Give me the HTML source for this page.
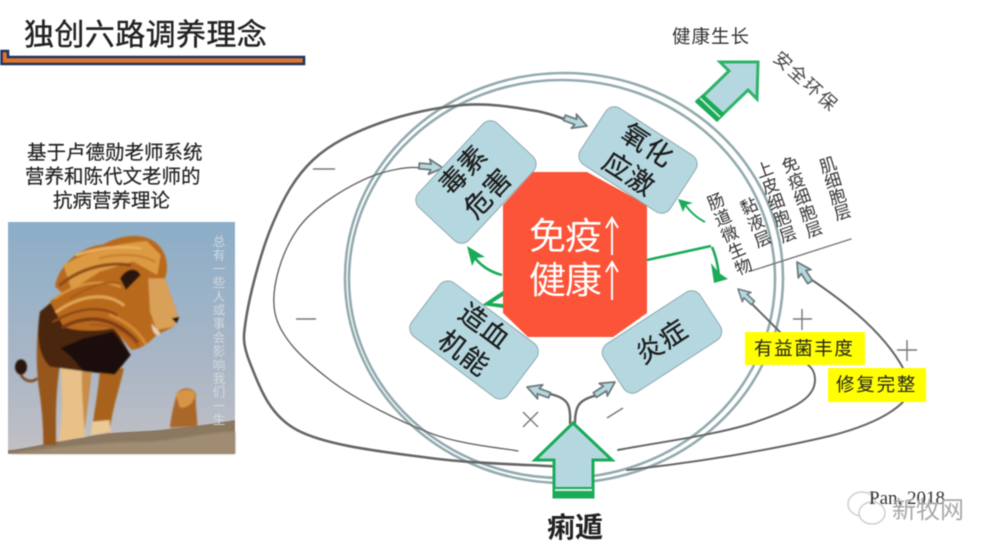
<!DOCTYPE html>
<html><head><meta charset="utf-8">
<style>
html,body{margin:0;padding:0;background:#fff}
#p{position:relative;width:1000px;height:555px;overflow:hidden;background:#fff;font-family:"Liberation Sans","Noto Sans CJK SC",sans-serif;color:#222;filter:blur(.45px)}
.t{position:absolute;white-space:nowrap;line-height:1}
.c{position:absolute;white-space:nowrap;line-height:1;writing-mode:vertical-rl;transform-origin:50% 0;color:#333;font-size:17px}
.r{position:absolute;background:#b5d8e0;border:1.5px solid #8fa9ae;border-radius:11px;box-sizing:border-box;display:flex;align-items:center;justify-content:center;text-align:center;color:#1c1c1c;font-size:27px;line-height:34px;letter-spacing:1px;-webkit-text-stroke:.3px #1c1c1c}
svg{position:absolute;left:0;top:0}
</style></head><body><div id="p">
<svg width="1000" height="555" viewBox="0 0 1000 555">
<defs>
<filter id="b"><feGaussianBlur stdDeviation="2"/></filter>
<filter id="b2"><feGaussianBlur stdDeviation="3"/></filter>
<linearGradient id="sky" x1="0" y1="0" x2="0" y2="1"><stop offset="0" stop-color="#8caec8"/><stop offset=".6" stop-color="#a9b6c6"/><stop offset="1" stop-color="#c2c0c4"/></linearGradient>
<path id="ha" d="M-24 -2.8H-12L-14 -7.5L0 0L-14 7.5L-12 2.8H-24Z"/>
</defs>
<!-- title bar -->
<path d="M1.5 51H8V57H304V64H1.5Z" fill="#e0742a" stroke="#1d3566" stroke-width="2.6"/>
<!-- lion -->
<rect x="8" y="222" width="227" height="232" fill="url(#sky)"/>
<g transform="translate(0,215) scale(.3333)">
<path d="M24 706C90 700 150 680 250 668 340 645 430 655 520 640 600 632 650 625 705 615V716H24Z" fill="#8a7860"/>
<path d="M24 716C150 700 300 680 450 680 560 670 640 650 705 650V716Z" fill="#a08c72" filter="url(#b2)"/>
<g filter="url(#b)">
<path d="M112 490C95 505 72 498 62 478" fill="none" stroke="#7a4a22" stroke-width="8"/>
<ellipse cx="63" cy="456" rx="18" ry="23" fill="#2a1708"/>
<path d="M120 300C108 370 108 440 115 510 125 570 130 630 130 690H168C168 620 165 560 178 460L150 290Z" fill="#96561e"/>
<path d="M245 470L275 470C270 530 262 580 255 640L245 640Z" fill="#c98c48"/>
<path d="M300 460H372C355 530 335 590 328 655L275 655C282 590 295 530 300 460Z" fill="#a8621e"/>
<path d="M278 620L328 615 332 652 272 660Z" fill="#ecc894"/>
<path d="M182 455H245C245 530 250 600 256 665L175 680C190 620 185 530 182 455Z" fill="#e8c088"/>
<path d="M120 290C110 350 112 420 150 455L260 470 340 478 392 420 340 330 180 240Z" fill="#4a2610"/>
<path d="M180 400C230 430 240 470 260 470L345 478 392 420 340 350 250 370Z" fill="#1e0f07"/>
<path d="M165 215C175 150 240 95 310 88 360 60 430 50 470 85 505 115 505 165 495 190L535 305 522 335 470 360C450 380 430 400 395 405L340 340C290 350 230 350 190 335L150 260 185 232Z" fill="#b9691f"/>
<path d="M190 150C260 110 350 85 440 78L482 120 472 180 400 140 300 170 215 225Z" fill="#dc9a42"/>
<g fill="none" stroke-linecap="round">
<path d="M180 210C240 160 320 140 390 150" stroke="#8a4a18" stroke-width="9"/>
<path d="M165 250C230 205 300 190 360 215" stroke="#d9953f" stroke-width="7"/>
<path d="M170 290C240 240 320 230 370 270" stroke="#e2a652" stroke-width="9"/>
<path d="M160 320C230 280 300 270 350 300" stroke="#8a4414" stroke-width="7"/>
<path d="M190 335C260 300 340 300 410 380" stroke="#7e3c12" stroke-width="11"/>
<path d="M230 120C290 100 350 90 420 100" stroke="#eab062" stroke-width="8"/>
<path d="M270 330C330 325 380 350 415 395" stroke="#a8591a" stroke-width="7"/>
<path d="M330 300C370 315 415 345 435 385" stroke="#d88a36" stroke-width="9"/>
<path d="M210 250C270 215 320 195 360 205" stroke="#a55c1e" stroke-width="7"/>
<path d="M300 130C350 115 420 115 465 140" stroke="#c97d2c" stroke-width="6"/>
</g>
<path d="M445 190L495 190 535 305 522 335 470 345 450 290Z" fill="#d9a058"/>
<path d="M360 190C375 165 405 150 422 180L378 225Z" fill="#2a150a"/>
<path d="M455 325C470 345 480 345 480 360 465 365 455 345 455 325Z" fill="#ead0b0"/>
<path d="M515 310L538 305 530 325Z" fill="#1c100a"/>
<path d="M510 638C515 590 525 560 530 535 545 515 575 515 588 535 585 570 592 600 592 635L510 638Z" fill="#a9682a"/>
<path d="M527 540C540 520 575 520 586 535 584 565 560 580 540 578Z" fill="#d69544"/>
</g>
</g>
<!-- rings -->
<ellipse cx="564" cy="278" rx="219" ry="205" fill="none" stroke="#93abaf" stroke-width="2.6"/>
<ellipse cx="562" cy="279" rx="213" ry="199" fill="none" stroke="#93abaf" stroke-width="2.6"/>
<!-- red -->
<path d="M503 205L533 172H587L647 205V313L613 337H528L503 313Z" fill="#fc5438"/>
<!-- gray curves -->
<g fill="none" stroke="#666" stroke-linecap="round">
<path d="M565 467C542 465 475 464 430 458 385 452 327 446 297 430 267 414 258 382 250 363 242 343 243 336 247 313 251 290 262 248 273 223 284 197 295 177 313 160 331 143 355 132 380 123 405 114 438 107 463 105 488 103 513 107 530 110 547 112 561 118 567 120" stroke-width="2.6"/>
<path d="M518 451C503 448 461 445 430 433 399 421 356 400 330 380 304 360 280 338 275 313 270 288 282 252 297 230 312 208 342 190 363 180 384 170 410 166 420 168" stroke-width="1.4"/>
<path d="M618 450C660 442 710 436 750 424 790 410 815 400 815 380 815 372 812 368 808 365" stroke-width="2"/>
<path d="M780 332L748 300" stroke-width="2"/>
<path d="M627 470C700 462 770 450 830 436 865 427 890 415 903 402" stroke-width="2"/>
<path d="M903 368C885 335 850 305 806 276" stroke-width="2"/>
<path d="M570 423C571 405 568 398 550 394" stroke-width="2.4"/>
<path d="M575 423C575 405 580 400 594 396" stroke-width="2.4"/>
<path d="M751 271L851 239" stroke-width="1.4" stroke="#777"/>
</g>
<!-- hollow arrowheads -->
<g fill="#b5d8e0" stroke="#6f7a7c" stroke-width="1.8" stroke-linejoin="round">
<use href="#ha" transform="translate(587,126) rotate(20)"/>
<use href="#ha" transform="translate(443,168) rotate(5)"/>
<use href="#ha" transform="translate(527,387) rotate(200)"/>
<use href="#ha" transform="translate(615,382) rotate(-33)"/>
<use href="#ha" transform="translate(738,289) rotate(223) scale(.85)"/>
<use href="#ha" transform="translate(797,262) rotate(237)"/>
</g>
<!-- green arrows -->
<g fill="none" stroke="#1aab58" stroke-width="2.6">
<path d="M647 260L711 246"/>
<path d="M705 222C697 218 690 212 684 203" stroke-width="2"/>
<path d="M712 247C716 256 718 266 719 276"/>
<path d="M502 275C490 272 480 266 472 254"/>
</g>
<g fill="#1aab58">
<path d="M678 199L693 203 686 205 683 212Z"/>
<path d="M728 279L714 283 711 263 719 273Z"/>
<path d="M467 246L485 257 476 258 472 266Z"/>
<path d="M482 305L503 291 503 296 492 303 503 304 503 308Z"/>
</g>
<!-- arrows in red -->
<g stroke="#fff" stroke-width="2" fill="none">
<path d="M612 218V255M606 228L612 218 618 228"/>
<path d="M612 262V300M606 272L612 262 618 272"/>
</g>
<!-- big arrows -->
<path d="M573 423L612 460H593V497H554V460H535Z" fill="#b5d8e0" stroke="#1aab58" stroke-width="3"/>
<rect x="554" y="487" width="39" height="10" fill="#1aab58"/>
<rect x="555" y="489" width="37" height="2" fill="#d8efe4"/>
<path d="M758 62H720L729 71 697 102 717 120 748 90 757 99Z" fill="#b5d8e0" stroke="#2fb36a" stroke-width="3"/>
<path d="M695 101L717 122 725 114 703 94Z" fill="#1aab58"/>
<path d="M700 98L720 117" stroke="#d8efe4" stroke-width="1.6"/>
<!-- signs -->
<g stroke="#777" stroke-width="1.4" fill="none">
<path d="M313 169H335"/><path d="M296 319H316"/>
<path d="M793 319H812M802 309V330" /><path d="M897 350H917M907 340V361"/>
<path d="M523 412L538 427M538 412L523 427"/>
<path d="M607 418L623 408"/>
</g>
<!-- yellow -->
<rect x="745" y="332" width="120" height="33" fill="#ffff00"/>
<rect x="828" y="368" width="98" height="34" fill="#ffff00"/>
<!-- wechat icon -->
<g fill="#fff" stroke="#cfcfcf" stroke-width="1.5">
<ellipse cx="862" cy="504" rx="14" ry="12"/>
<ellipse cx="872" cy="513" rx="13" ry="11"/>
</g>
</svg>

<div class="t" style="left:24px;top:21px;font-size:30px;letter-spacing:.4px;color:#222;-webkit-text-stroke:.4px #222">独创六路调养理念</div>
<div class="t" style="left:27px;top:144px;font-size:19.5px;-webkit-text-stroke:.2px #222">基于卢德勋老师系统</div>
<div class="t" style="left:25px;top:168px;font-size:19.5px;-webkit-text-stroke:.2px #222">营养和陈代文老师的</div>
<div class="t" style="left:53px;top:192px;font-size:19.5px;-webkit-text-stroke:.2px #222">抗病营养理论</div>
<div class="c" style="left:211px;top:235px;font-size:12.5px;color:#d8dde2;letter-spacing:1.2px;opacity:.9">总有一些人或事会影响我们一生</div>

<div class="t" style="left:672px;top:28px;font-size:18.5px;color:#333;letter-spacing:1px">健康生长</div>
<div class="t" style="left:776px;top:46px;font-size:18px;color:#444;letter-spacing:2px;transform:rotate(42deg);transform-origin:0 50%">安全环保</div>

<div class="t" style="left:529px;top:218px;font-size:37px;letter-spacing:-1px;color:#fff">免疫</div>
<div class="t" style="left:529px;top:262px;font-size:37px;letter-spacing:-1px;color:#fff">健康</div>

<div class="r" style="left:418px;top:147px;width:116px;height:70px;transform:rotate(-47deg)">毒素<br>危害</div>
<div class="r" style="left:584px;top:126px;width:108px;height:68px;transform:rotate(33deg)">氧化<br>应激</div>
<div class="r" style="left:413px;top:306px;width:122px;height:68px;transform:rotate(37deg)">造血<br>机能</div>
<div class="r" style="left:604px;top:313px;width:116px;height:58px;transform:rotate(-33deg)">炎症</div>

<div class="c" style="left:702px;top:194px;letter-spacing:.7px;transform:rotate(-23deg)">肠道微生物</div>
<div class="c" style="left:735px;top:199px;letter-spacing:.7px;transform:rotate(-23deg)">黏液层</div>
<div class="c" style="left:751px;top:162px;letter-spacing:.2px;transform:rotate(-20deg)">上皮细胞层</div>
<div class="c" style="left:777px;top:157px;letter-spacing:.2px;transform:rotate(-20deg)">免疫细胞层</div>
<div class="c" style="left:815px;top:157px;letter-spacing:-.5px;transform:rotate(-17deg)">肌细胞层</div>

<div class="t" style="left:754px;top:340px;font-size:18.5px;letter-spacing:1.6px">有益菌丰度</div>
<div class="t" style="left:836px;top:376px;font-size:18.5px;letter-spacing:1.8px">修复完整</div>
<div class="t" style="left:547px;top:514px;font-size:28px;font-weight:bold">痢遁</div>
<div class="t" style="left:869px;top:489px;font-size:19px;font-family:'Liberation Serif',serif;color:#333">Pan, 2018</div>
<div class="t" style="left:892px;top:499px;font-size:24px;color:#a8a8a8">新牧网</div>
</div></body></html>
